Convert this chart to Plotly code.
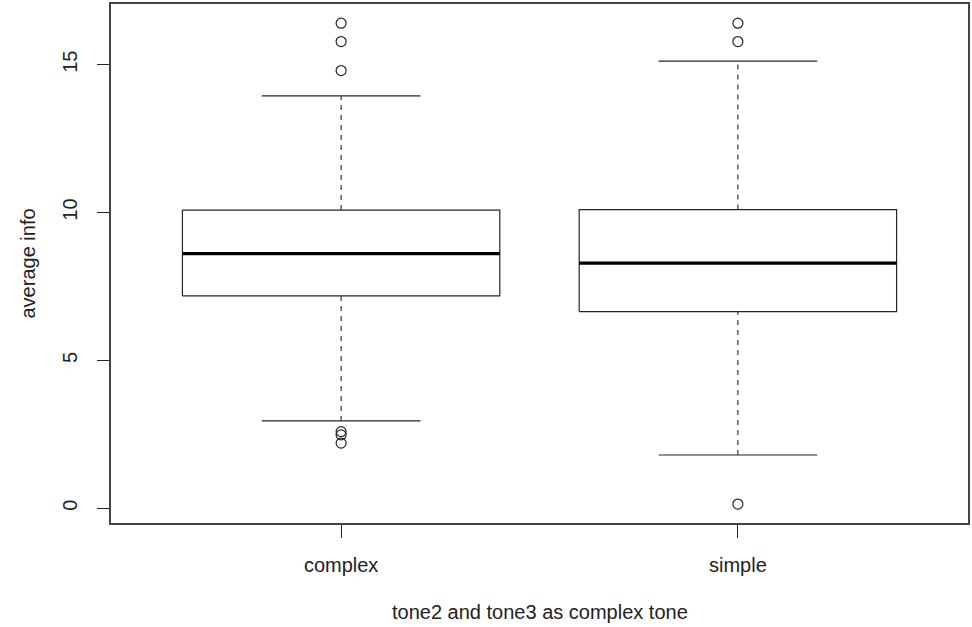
import plotly.graph_objects as go

# Summary statistics for "average info" by tone type
categories = ["complex", "simple"]
q1 = [7.18, 6.65]
median = [8.61, 8.29]
q3 = [10.08, 10.10]
lower_whisker = [2.95, 1.80]
upper_whisker = [13.94, 15.12]
outliers = [
    [16.40, 15.78, 14.80, 2.59, 2.48, 2.20],
    [16.40, 15.78, 0.14],
]
y_ticks = [0, 5, 10, 15]

LINE = "#262626"
FONT = dict(family="Liberation Sans, Arial, Helvetica, sans-serif", size=20, color="#222222")
HALF_BOX = 0.4
HALF_CAP = 0.2

fig = go.Figure()

for i, name in enumerate(categories):
    xc = i + 1
    # box body
    fig.add_trace(go.Scatter(
        x=[xc - HALF_BOX, xc + HALF_BOX, xc + HALF_BOX, xc - HALF_BOX, xc - HALF_BOX],
        y=[q1[i], q1[i], q3[i], q3[i], q1[i]],
        mode="lines", line=dict(color=LINE, width=1.2),
        fill="toself", fillcolor="white", hoverinfo="skip", showlegend=False,
    ))
    # dashed whiskers
    for lo, hi in [(q3[i], upper_whisker[i]), (lower_whisker[i], q1[i])]:
        fig.add_trace(go.Scatter(
            x=[xc, xc], y=[lo, hi], mode="lines",
            line=dict(color=LINE, width=1.1, dash="5px,5px"),
            hoverinfo="skip", showlegend=False,
        ))
    # whisker caps
    for v in [upper_whisker[i], lower_whisker[i]]:
        fig.add_trace(go.Scatter(
            x=[xc - HALF_CAP, xc + HALF_CAP], y=[v, v], mode="lines",
            line=dict(color=LINE, width=1.2), hoverinfo="skip", showlegend=False,
        ))
    # median
    fig.add_trace(go.Scatter(
        x=[xc - HALF_BOX, xc + HALF_BOX], y=[median[i], median[i]], mode="lines",
        line=dict(color="black", width=3.2), hoverinfo="skip", showlegend=False,
    ))
    # outliers
    fig.add_trace(go.Scatter(
        x=[xc] * len(outliers[i]), y=outliers[i], mode="markers",
        marker=dict(symbol="circle-open", size=10, color=LINE, line=dict(width=1.2)),
        showlegend=False,
    ))

fig.update_layout(
    width=972, height=627,
    margin=dict(l=111, r=4, t=4, b=104, autoexpand=False),
    paper_bgcolor="white", plot_bgcolor="white",
    font=FONT,
    xaxis=dict(
        range=[0.42, 2.58], tickvals=[1, 2], ticktext=categories,
        ticks="outside", ticklen=13, tickcolor=LINE, tickwidth=1.1,
        showline=True, linecolor="#444444", linewidth=1.6, mirror=True,
        showgrid=False, zeroline=False, ticklabelstandoff=10,
    ),
    yaxis=dict(
        range=[-0.5, 17.05], tickvals=y_ticks, ticktext=[str(t) for t in y_ticks],
        ticks="outside", ticklen=12, tickcolor=LINE, tickwidth=1.1, tickangle=-90,
        showline=True, linecolor="#444444", linewidth=1.6, mirror=True,
        showgrid=False, zeroline=False, ticklabelstandoff=12,
    ),
    annotations=[
        dict(text="tone2 and tone3 as complex tone", xref="paper", yref="paper",
             x=0.5, y=0, yshift=-89, showarrow=False, xanchor="center", yanchor="middle",
             font=FONT),
        dict(text="average info", xref="paper", yref="paper",
             x=0, y=0.5, xshift=-84, showarrow=False, xanchor="center", yanchor="middle",
             textangle=-90, font=FONT),
    ],
)

fig.write_html("out.html")
